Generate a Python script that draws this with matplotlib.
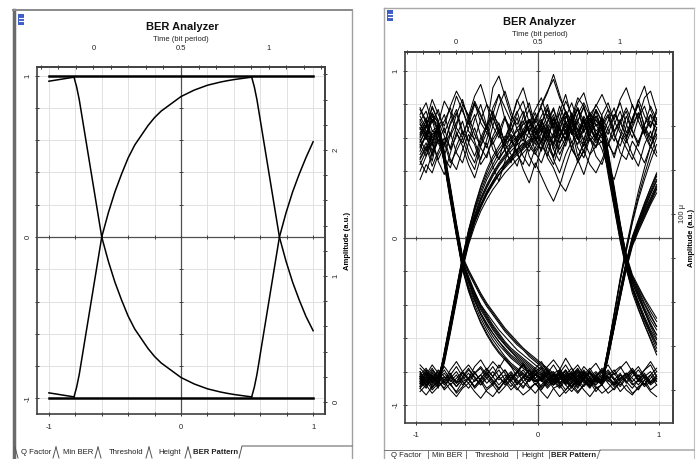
import numpy as np
import matplotlib
matplotlib.use('Agg')
import matplotlib.pyplot as plt
from matplotlib.patches import Rectangle

plt.rcParams['font.family'] = ['Liberation Sans', 'DejaVu Sans']

W, H = 697, 459

# ---- left window: clean eye (x = display units, y = amplitude)
flat_x = [-1.0, 1.0]
flat_top = [1.0, 1.0]
flat_bottom = [-1.0, -1.0]
lead_x = [-1.0, -0.81]
lead_top = [0.965, 0.99]
lead_bottom = [-0.965, -0.99]
edge1_x = [-0.81, -0.79, -0.77, -0.74, -0.70, -0.65, -0.60, -0.55, -0.50, -0.45,
           -0.40, -0.35, -0.30, -0.25, -0.20, -0.15, -0.10, -0.05, 0.00, 0.05,
           0.10, 0.15, 0.20, 0.25, 0.30, 0.35, 0.40, 0.47, 0.535]
fall1_y = [0.99, 0.93, 0.85, 0.70, 0.50, 0.25, 0.00, -0.15, -0.28, -0.39,
           -0.49, -0.57, -0.63, -0.69, -0.74, -0.78, -0.81, -0.84, -0.87, -0.89,
           -0.91, -0.925, -0.94, -0.95, -0.96, -0.968, -0.975, -0.983, -0.99]
rise1_y = [-0.99, -0.93, -0.85, -0.70, -0.50, -0.25, 0.00, 0.15, 0.28, 0.39,
           0.49, 0.57, 0.63, 0.69, 0.74, 0.78, 0.81, 0.84, 0.87, 0.89,
           0.91, 0.925, 0.94, 0.95, 0.96, 0.968, 0.975, 0.983, 0.99]
edge2_x = [0.535, 0.555, 0.575, 0.605, 0.645, 0.695, 0.745, 0.795, 0.845, 0.895, 0.945, 1.0]
fall2_y = [0.99, 0.93, 0.85, 0.70, 0.50, 0.25, 0.00, -0.15, -0.28, -0.39, -0.49, -0.58]
rise2_y = [-0.99, -0.93, -0.85, -0.70, -0.50, -0.25, 0.00, 0.15, 0.28, 0.39, 0.49, 0.59]

# ---- right window: noisy eye, samples in hundredths of amplitude
sample_x = [-0.97, -0.92, -0.87, -0.82, -0.77, -0.72, -0.67, -0.62, -0.57, -0.52,
            -0.47, -0.42, -0.37, -0.32, -0.27, -0.22, -0.17, -0.12, -0.07, -0.02,
            0.03, 0.08, 0.13, 0.18, 0.23, 0.28, 0.33, 0.38, 0.43, 0.48,
            0.53, 0.58, 0.63, 0.68, 0.73, 0.78, 0.83, 0.88, 0.93, 0.98]

high_high = [
    [62, 70, 58, 66, 74, 61, 69, 78, 64, 59,  71, 80, 67, 60, 72, 65, 58, 69, 77, 63,  70, 61, 55, 66, 73, 68, 59, 64, 71, 62,  57, 66, 74, 69, 61, 72, 80, 67, 60, 70],
    [48, 55, 43, 52, 60, 47, 41, 53, 62, 56,  44, 50, 59, 65, 52, 46, 57, 63, 49, 42,  54, 61, 47, 39, 50, 58, 45, 53, 60, 49,  44, 56, 63, 51, 47, 58, 52, 45, 55, 62],
    [78, 70, 83, 74, 67, 79, 88, 81, 73, 85,  92, 80, 74, 86, 78, 70, 82, 90, 77, 69,  80, 88, 95, 84, 76, 70, 81, 87, 74, 79,  86, 77, 71, 83, 90, 79, 72, 84, 88, 76],
    [35, 44, 39, 50, 57, 45, 52, 60, 48, 41,  55, 63, 58, 47, 53, 61, 50, 44, 57, 66,  59, 48, 42, 33, 28, 37, 46, 52, 44, 39,  47, 56, 50, 61, 54, 47, 58, 65, 55, 49],
    [66, 59, 71, 64, 56, 68, 75, 62, 70, 82,  74, 66, 90, 97, 85, 73, 68, 76, 64, 71,  79, 87, 98, 86, 75, 64, 70, 78, 66, 59,  68, 74, 63, 70, 78, 69, 82, 91, 77, 68],
    [52, 63, 71, 57, 49, 62, 74, 83, 70, 58,  47, 59, 72, 64, 53, 45, 60, 73, 81, 67,  56, 49, 62, 75, 86, 72, 60, 51, 63, 77,  69, 58, 48, 61, 73, 64, 55, 68, 79, 71],
    [71, 64, 56, 69, 82, 75, 63, 57, 66, 74,  61, 54, 67, 79, 88, 76, 65, 58, 71, 62,  68, 77, 64, 53, 60, 72, 84, 79, 67, 59,  74, 81, 70, 63, 57, 66, 75, 62, 54, 65],
    [40, 49, 57, 46, 38, 51, 63, 55, 44, 36,  48, 57, 43, 34, 46, 58, 52, 41, 33, 45,  37, 29, 22, 31, 43, 54, 47, 38, 50, 61,  53, 42, 35, 47, 59, 50, 43, 56, 64, 51],
]
high_fall = [
    [68, 61, 73, 65, 70, 78, 66, 60, 72, 81,  69, 63, 74, 68, 57, 64, 72, 60, 67, 75,  63, 70, 78, 66, 59, 71, 64, 69, 75, 70,  66, 46, 25, 4, -14, -26, -33, -42, -49, -55],
    [55, 62, 50, 58, 66, 53, 61, 70, 57, 49,  60, 68, 56, 64, 73, 59, 52, 63, 71, 58,  66, 55, 48, 60, 67, 54, 62, 70, 58, 63,  60, 38, 18, -2, -19, -31, -40, -48, -56, -63],
    [74, 81, 69, 77, 63, 72, 85, 76, 68, 80,  73, 65, 78, 86, 71, 64, 75, 82, 69, 77,  84, 72, 66, 79, 70, 62, 74, 81, 73, 67,  71, 52, 31, 9, -11, -23, -30, -37, -44, -50],
    [44, 52, 58, 47, 55, 63, 51, 45, 57, 66,  54, 48, 61, 69, 56, 50, 43, 55, 64, 52,  59, 67, 53, 46, 58, 65, 49, 56, 62, 57,  62, 43, 21, 1, -16, -29, -38, -47, -55, -61],
    [60, 67, 75, 63, 56, 69, 77, 64, 58, 71,  80, 67, 73, 62, 55, 68, 76, 63, 70, 59,  52, 64, 72, 61, 68, 74, 60, 55, 66, 71,  65, 47, 26, 5, -13, -27, -36, -44, -52, -58],
    [57, 66, 78, 70, 61, 54, 67, 80, 73, 62,  55, 68, 76, 65, 58, 70, 83, 74, 63, 56,  69, 78, 66, 57, 64, 75, 68, 59, 71, 80,  73, 51, 29, 7, -12, -24, -31, -39, -46, -53],
    [46, 39, 51, 59, 48, 42, 55, 64, 52, 45,  58, 66, 53, 47, 60, 69, 57, 49, 43, 54,  63, 51, 44, 56, 65, 53, 47, 58, 50, 55,  58, 40, 19, -1, -18, -33, -43, -52, -60, -68],
]
rise_high = [
    [-84, -79, -86, -83, -72, -54, -35, -16, -1, 11,  20, 28, 34, 40, 45, 49, 53, 56, 59, 62,  67, 58, 71, 64, 76, 69, 61, 73, 66, 58,  69, 77, 64, 71, 60, 68, 75, 63, 70, 66],
    [-88, -82, -90, -85, -69, -50, -31, -12, 3, 16,  26, 35, 42, 48, 53, 57, 61, 64, 60, 66,  71, 63, 56, 68, 75, 62, 70, 79, 67, 60,  72, 65, 58, 69, 76, 64, 57, 68, 74, 61],
    [-80, -86, -82, -88, -75, -57, -38, -19, -4, 7,  16, 23, 29, 34, 39, 43, 47, 51, 55, 50,  58, 65, 53, 61, 69, 57, 64, 72, 59, 54,  66, 73, 61, 55, 67, 80, 70, 62, 74, 68],
    [-86, -90, -84, -87, -70, -52, -33, -14, 2, 14,  24, 32, 39, 45, 50, 55, 60, 63, 67, 71,  64, 74, 68, 60, 72, 81, 70, 63, 75, 68,  61, 70, 78, 65, 59, 71, 83, 73, 66, 77],
    [-83, -87, -80, -84, -73, -55, -36, -17, -2, 10,  19, 26, 33, 38, 43, 48, 52, 55, 58, 61,  57, 66, 74, 62, 55, 67, 78, 70, 61, 73,  64, 56, 68, 76, 63, 71, 80, 66, 58, 72],
    [-87, -83, -89, -86, -71, -52, -32, -13, 4, 19,  31, 41, 49, 55, 61, 58, 66, 70, 63, 72,  78, 67, 60, 71, 82, 74, 65, 58, 69, 77,  70, 62, 73, 81, 68, 60, 72, 79, 67, 75],
]
rise_fall = [
    [-83, -87, -81, -85, -71, -53, -34, -15, 0, 12,  22, 30, 37, 43, 48, 52, 56, 59, 55, 62,  68, 60, 72, 65, 58, 70, 77, 64, 69, 73,  67, 48, 27, 6, -12, -25, -34, -43, -51, -58],
    [-89, -84, -88, -82, -74, -56, -36, -18, -3, 9,  18, 26, 32, 38, 43, 47, 51, 54, 57, 60,  53, 61, 69, 57, 64, 71, 59, 66, 74, 62,  65, 44, 23, 3, -15, -29, -39, -49, -57, -64],
    [-82, -88, -85, -90, -68, -49, -30, -11, 4, 17,  28, 37, 44, 51, 56, 60, 64, 68, 71, 65,  73, 80, 68, 75, 62, 70, 78, 66, 72, 64,  68, 50, 29, 8, -10, -22, -29, -36, -42, -48],
    [-87, -81, -84, -86, -73, -55, -37, -17, -2, 10,  19, 27, 33, 38, 42, 46, 50, 53, 57, 51,  45, 55, 63, 50, 58, 66, 54, 48, 60, 55,  63, 43, 22, 2, -17, -30, -40, -50, -58, -66],
    [-85, -89, -83, -84, -70, -51, -32, -13, 1, 13,  23, 31, 38, 44, 49, 54, 58, 62, 66, 60,  70, 63, 57, 69, 76, 65, 59, 71, 63, 68,  66, 46, 24, 4, -14, -27, -35, -44, -53, -60],
    [-84, -80, -86, -89, -72, -54, -35, -16, -1, 11,  20, 27, 34, 40, 44, 49, 53, 57, 52, 59,  65, 58, 49, 61, 70, 63, 56, 67, 74, 61,  69, 49, 28, 7, -11, -24, -32, -40, -47, -53],
    [-90, -86, -83, -87, -69, -50, -31, -12, 5, 18,  30, 39, 47, 53, 58, 62, 57, 65, 71, 64,  57, 69, 77, 66, 59, 72, 64, 55, 67, 76,  64, 45, 24, 3, -16, -31, -42, -52, -61, -70],
]
low_low = [
    [-84, -88, -82, -86, -90, -83, -87, -81, -85, -89,  -84, -80, -86, -91, -85, -82, -88, -84, -79, -85,  -90, -86, -81, -87, -83, -89, -85, -80, -86, -92,  -87, -83, -88, -84, -81, -87, -91, -85, -82, -88],
    [-78, -82, -76, -81, -85, -79, -74, -80, -84, -77,  -73, -79, -83, -76, -81, -86, -80, -75, -82, -78,  -74, -80, -85, -79, -72, -78, -83, -77, -81, -86,  -80, -76, -82, -78, -74, -80, -85, -79, -76, -83],
    [-92, -88, -93, -89, -86, -91, -95, -90, -87, -92,  -96, -91, -88, -93, -89, -85, -90, -94, -91, -87,  -92, -96, -90, -88, -93, -89, -86, -91, -95, -90,  -88, -93, -90, -86, -91, -94, -89, -87, -92, -95],
    [-86, -81, -87, -84, -79, -85, -89, -83, -78, -84,  -88, -82, -77, -83, -87, -81, -86, -90, -84, -79,  -85, -81, -76, -82, -88, -84, -80, -85, -89, -83,  -78, -84, -88, -82, -86, -81, -77, -83, -87, -84],
    [-81, -85, -79, -83, -77, -82, -86, -80, -76, -81,  -85, -79, -74, -78, -72, -77, -83, -79, -84, -80,  -77, -83, -87, -81, -76, -82, -78, -84, -79, -75,  -81, -86, -80, -77, -83, -79, -84, -88, -82, -78],
    [-90, -94, -89, -85, -91, -87, -93, -89, -84, -90,  -86, -92, -95, -90, -86, -91, -87, -83, -89, -93,  -88, -84, -90, -95, -91, -87, -92, -88, -84, -89,  -93, -90, -86, -92, -88, -93, -90, -85, -91, -88],
    [-76, -80, -84, -79, -83, -88, -84, -80, -85, -81,  -77, -82, -87, -83, -79, -84, -80, -76, -81, -86,  -82, -77, -73, -78, -84, -80, -76, -82, -87, -83,  -79, -84, -81, -86, -82, -78, -83, -79, -74, -80],
]
low_rise = [
    [-85, -81, -87, -83, -88, -84, -80, -86, -90, -85,  -82, -87, -83, -79, -85, -89, -84, -81, -86, -82,  -78, -84, -88, -83, -87, -82, -79, -85, -89, -84,  -87, -70, -52, -33, -16, -2, 8, 17, 26, 34],
    [-80, -86, -83, -89, -85, -81, -87, -84, -79, -83,  -88, -84, -80, -85, -82, -87, -91, -86, -82, -88,  -84, -79, -85, -81, -86, -90, -84, -80, -83, -87,  -85, -66, -45, -24, -5, 12, 28, 42, 55, 66],
    [-89, -85, -91, -87, -83, -88, -92, -86, -84, -89,  -85, -90, -87, -83, -88, -84, -80, -86, -90, -87,  -91, -86, -82, -87, -84, -89, -93, -88, -85, -90,  -88, -72, -54, -36, -18, -4, 5, 13, 21, 29],
    [-82, -78, -84, -80, -86, -82, -77, -83, -87, -81,  -78, -84, -88, -83, -79, -85, -81, -76, -82, -86,  -83, -79, -84, -88, -82, -78, -85, -81, -86, -83,  -86, -69, -50, -31, -14, 1, 11, 21, 30, 39],
    [-87, -83, -78, -84, -81, -86, -82, -88, -84, -80,  -86, -81, -85, -90, -86, -82, -87, -83, -79, -84,  -89, -85, -81, -86, -91, -86, -82, -87, -83, -80,  -84, -66, -46, -26, -8, 9, 23, 35, 46, 56],
    [-83, -88, -85, -81, -87, -83, -89, -85, -81, -86,  -82, -78, -83, -88, -84, -80, -85, -89, -85, -81,  -86, -82, -88, -84, -79, -85, -89, -84, -80, -86,  -87, -71, -53, -35, -17, -3, 6, 14, 22, 30],
]
fall_low = [
    [66, 59, 71, 68, 48, 27, 5, -14, -24, -33,  -41, -47, -53, -58, -63, -67, -70, -73, -76, -79,  -81, -84, -88, -85, -81, -86, -90, -84, -80, -85,  -88, -83, -87, -82, -86, -90, -85, -81, -87, -84],
    [58, 64, 52, 65, 44, 22, 1, -19, -32, -42,  -50, -57, -63, -68, -72, -76, -79, -82, -84, -86,  -83, -88, -84, -80, -85, -89, -86, -82, -87, -83,  -80, -85, -89, -84, -81, -86, -82, -88, -84, -80],
    [73, 66, 79, 70, 52, 31, 9, -11, -19, -26,  -33, -39, -44, -49, -54, -58, -62, -66, -69, -72,  -75, -78, -81, -79, -84, -81, -86, -82, -78, -84,  -87, -82, -79, -85, -81, -84, -88, -83, -80, -86],
    [50, 57, 46, 62, 46, 24, 2, -18, -30, -40,  -48, -55, -61, -66, -71, -75, -78, -81, -84, -86,  -85, -90, -86, -83, -88, -92, -87, -84, -89, -85,  -82, -87, -91, -86, -83, -88, -85, -89, -86, -82],
    [70, 76, 64, 67, 50, 29, 7, -13, -23, -32,  -40, -46, -52, -57, -62, -66, -69, -72, -75, -78,  -80, -84, -88, -83, -80, -85, -81, -86, -90, -84,  -86, -81, -85, -89, -84, -80, -86, -83, -87, -84],
    [63, 70, 58, 68, 48, 27, 5, -15, -27, -37,  -45, -52, -57, -62, -67, -71, -74, -77, -80, -82,  -85, -81, -86, -83, -79, -84, -88, -85, -81, -86,  -83, -79, -84, -88, -83, -80, -85, -82, -86, -83],
    [56, 49, 62, 66, 47, 26, 4, -16, -25, -33,  -40, -45, -50, -55, -59, -63, -67, -70, -73, -76,  -79, -82, -80, -85, -82, -87, -83, -79, -84, -88,  -84, -80, -85, -81, -87, -83, -79, -84, -88, -85],
]
fall_rise = [
    [61, 68, 55, 66, 47, 26, 4, -15, -25, -34,  -42, -48, -54, -59, -64, -68, -71, -74, -77, -80,  -82, -87, -84, -80, -86, -89, -84, -81, -86, -83,  -86, -69, -51, -32, -15, -1, 9, 18, 27, 35],
    [77, 69, 74, 69, 49, 28, 6, -12, -21, -28,  -35, -41, -46, -51, -56, -60, -64, -67, -71, -74,  -77, -80, -83, -82, -87, -84, -80, -85, -89, -84,  -88, -71, -53, -34, -17, -3, 7, 15, 23, 31],
    [54, 61, 49, 64, 45, 23, 2, -18, -31, -42,  -51, -58, -64, -69, -73, -77, -80, -83, -86, -82,  -85, -81, -86, -90, -85, -82, -87, -83, -80, -85,  -85, -66, -46, -25, -7, 10, 25, 38, 50, 60],
    [65, 72, 60, 67, 51, 30, 8, -12, -20, -27,  -34, -40, -45, -50, -55, -59, -63, -66, -70, -73,  -76, -79, -82, -81, -86, -83, -79, -84, -88, -82,  -87, -70, -51, -33, -16, -2, 8, 16, 24, 32],
    [47, 54, 62, 65, 46, 25, 3, -16, -26, -35,  -43, -49, -55, -60, -64, -68, -72, -75, -78, -81,  -84, -89, -85, -82, -87, -83, -88, -84, -81, -86,  -84, -68, -50, -31, -14, 0, 10, 19, 28, 37],
    [69, 62, 75, 69, 50, 29, 7, -13, -26, -36,  -45, -51, -57, -62, -66, -70, -73, -76, -79, -82,  -84, -80, -85, -89, -84, -81, -86, -82, -87, -83,  -86, -70, -52, -33, -15, -1, 10, 20, 30, 38],
    [59, 52, 64, 63, 45, 24, 3, -17, -29, -38,  -46, -53, -59, -64, -68, -72, -75, -78, -81, -84,  -81, -86, -82, -87, -83, -80, -85, -89, -85, -81,  -87, -72, -54, -36, -19, -5, 4, 12, 20, 27],
]

tabs = ['Q Factor', 'Min BER', 'Threshold', 'Height', 'BER Pattern']


def box(x0, y0, x1, y1):
    return [x0 / W, 1 - y1 / H, (x1 - x0) / W, (y1 - y0) / H]


def eye_axes(rect, xlim, ylim, t_scale, top_pad, bottom_pad):
    ax = fig.add_axes(rect)
    ax.set_xlim(xlim)
    ax.set_ylim(ylim)
    grid = np.round(np.arange(-1, 1.01, 0.2), 1)
    ax.set_xticks([-1, 0, 1])
    ax.set_xticklabels(['-1', '0', '1'])
    ax.set_xticks(grid, minor=True)
    ax.set_yticks([-1, 0, 1])
    ax.set_yticklabels(['-1', '0', '1'], rotation=90, va='center')
    ax.set_yticks(grid, minor=True)
    ax.grid(which='both', color='#dcdcdc', lw=0.6)
    ax.set_axisbelow(True)
    ax.axhline(0, color='#505050', lw=0.9, zorder=1)
    ax.axvline(0, color='#505050', lw=0.9, zorder=1)
    ax.plot(grid, np.zeros(len(grid)), ls='none', marker='|', ms=3, mew=0.7, color='#444', zorder=1)
    ax.plot(np.zeros(len(grid)), grid, ls='none', marker='_', ms=3, mew=0.7, color='#444', zorder=1)
    ax.tick_params(which='both', direction='inout', length=3, width=0.7, colors='#333',
                   labelsize=5.5, labelcolor='#222')
    ax.tick_params(axis='x', pad=bottom_pad)
    ax.tick_params(axis='y', pad=2.5)
    for s in ax.spines.values():
        s.set_color('#404040')
        s.set_linewidth(1.2)
    top = ax.secondary_xaxis('top', functions=(lambda x: x / t_scale + 0.5,
                                                lambda t: (t - 0.5) * t_scale))
    top.set_xticks([0, 0.5, 1])
    top.set_xticklabels(['0', '0.5', '1'])
    top.set_xticks(np.round(np.arange(-0.3, 1.31, 0.1), 1), minor=True)
    top.tick_params(which='both', direction='inout', length=3, width=0.7, colors='#333',
                    labelsize=5.5, labelcolor='#222', pad=top_pad)
    top.spines['top'].set_color('#404040')
    top.spines['top'].set_linewidth(1.2)
    return ax


fig = plt.figure(figsize=(W / 100, H / 100), dpi=100)

# window frames, titles and tabs drawn in pixel coordinates
bg = fig.add_axes([0, 0, 1, 1])
bg.set_xlim(0, W)
bg.set_ylim(H, 0)
bg.axis('off')

bg.plot([14, 14], [10, H], color='#6a6a6a', lw=2.5)
bg.plot([13, 352], [10, 10], color='#8a8a8a', lw=1.4)
bg.plot([352, 352], [10, H], color='#a0a0a0', lw=1.0)
bg.plot([384, 384], [8, H], color='#a8a8a8', lw=1.0)
bg.plot([384, 694], [8, 8], color='#a8a8a8', lw=1.0)
bg.plot([694, 694], [8, H], color='#c0c0c0', lw=0.8)

for x0, y0 in [(18, 14), (387, 10)]:
    bg.add_patch(Rectangle((x0, y0), 6, 11, color='#3f5fc8', lw=0))
    bg.plot([x0 + 1, x0 + 5], [y0 + 4, y0 + 4], color='white', lw=0.8)
    bg.plot([x0 + 1, x0 + 5], [y0 + 7, y0 + 7], color='white', lw=0.8)

bg.text(182, 27, 'BER Analyzer', ha='center', va='center', fontsize=8, fontweight='bold', color='#111')
bg.text(181, 39.5, 'Time (bit period)', ha='center', va='center', fontsize=5.5, color='#222')
bg.text(539, 22, 'BER Analyzer', ha='center', va='center', fontsize=8, fontweight='bold', color='#111')
bg.text(540, 35, 'Time (bit period)', ha='center', va='center', fontsize=5.5, color='#222')

# left window tab strip
for i, (name, xc) in enumerate(zip(tabs, [36, 78, 126, 170, 216])):
    bg.text(xc, 452.5, name, ha='center', va='center', fontsize=5.6, color='#222',
            fontweight='bold' if i == 4 else 'normal')
bg.plot([15, 18], [447, 458], color='#555', lw=0.7)
for b in [56, 98, 149, 188]:
    bg.plot([b - 3, b], [458, 447], color='#555', lw=0.7)
    bg.plot([b, b + 3], [447, 458], color='#555', lw=0.7)
bg.plot([239, 242, 352], [458, 446, 446], color='#555', lw=0.7)

# right window tab strip
bg.plot([384, 600], [450, 450], color='#777', lw=0.7)
for b in [428, 466, 517, 549]:
    bg.plot([b, b], [450, H], color='#777', lw=0.7)
bg.plot([597, 600, 694], [H, 450, 450], color='#777', lw=0.7)
for i, (name, xc) in enumerate(zip(tabs, [406, 447, 492, 533, 574])):
    bg.text(xc, 455.5, name, ha='center', va='center', fontsize=5.6, color='#222',
            fontweight='bold' if i == 4 else 'normal')

# ---- left panel
ax1 = eye_axes(box(37, 67, 325, 414), (-1.09, 1.09), (-1.096, 1.053), 1.326, 9, 5.5)
ax1.plot(flat_x, flat_top, color='black', lw=1.8)
ax1.plot(flat_x, flat_bottom, color='black', lw=1.8)
ax1.plot(lead_x, lead_top, color='black', lw=1.1)
ax1.plot(lead_x, lead_bottom, color='black', lw=1.1)
ax1.plot(edge1_x, fall1_y, color='black', lw=1.1)
ax1.plot(edge1_x, rise1_y, color='black', lw=1.1)
ax1.plot(edge2_x, fall2_y, color='black', lw=1.1)
ax1.plot(edge2_x, rise2_y, color='black', lw=1.1)

right1 = ax1.secondary_yaxis('right', functions=(lambda y: (y + 1.022) / 0.7805,
                                                 lambda r: r * 0.7805 - 1.022))
right1.set_yticks([0, 1, 2])
right1.set_yticklabels(['0', '1', '2'], rotation=90, va='center')
right1.set_yticks(np.round(np.arange(0, 2.7, 0.2), 1), minor=True)
right1.tick_params(which='both', direction='inout', length=3, width=0.7, colors='#333',
                   labelsize=5.5, labelcolor='#222', pad=4)
right1.spines['right'].set_color('#404040')
right1.spines['right'].set_linewidth(1.2)
right1.set_ylabel('Amplitude (a.u.)', fontsize=5.5, fontweight='bold', rotation=90, labelpad=3)

# ---- right panel
ax2 = eye_axes(box(405, 52, 673, 423), (-1.094, 1.115), (-1.108, 1.114), 1.35, 3, 5)
for group in (high_high, high_fall, rise_high, rise_fall, low_low, low_rise, fall_low, fall_rise):
    for trace in group:
        ax2.plot(sample_x, np.array(trace) / 100, color='black', lw=0.75)

right2 = ax2.secondary_yaxis('right', functions=(lambda y: (y + 0.383) / 0.00527,
                                                 lambda r: r * 0.00527 - 0.383))
right2.set_yticks([100])
right2.set_yticklabels(['100 \u03bc'], rotation=90, va='center')
right2.set_yticks([-100, -50, 0, 50, 150, 200], minor=True)
right2.tick_params(which='both', direction='inout', length=3, width=0.7, colors='#333',
                   labelsize=5.5, labelcolor='#222', pad=3)
right2.spines['right'].set_color('#404040')
right2.spines['right'].set_linewidth(1.2)
right2.set_ylabel('Amplitude (a.u.)', fontsize=5.5, fontweight='bold', rotation=90, labelpad=1)

fig.savefig('out.png', dpi=100)
